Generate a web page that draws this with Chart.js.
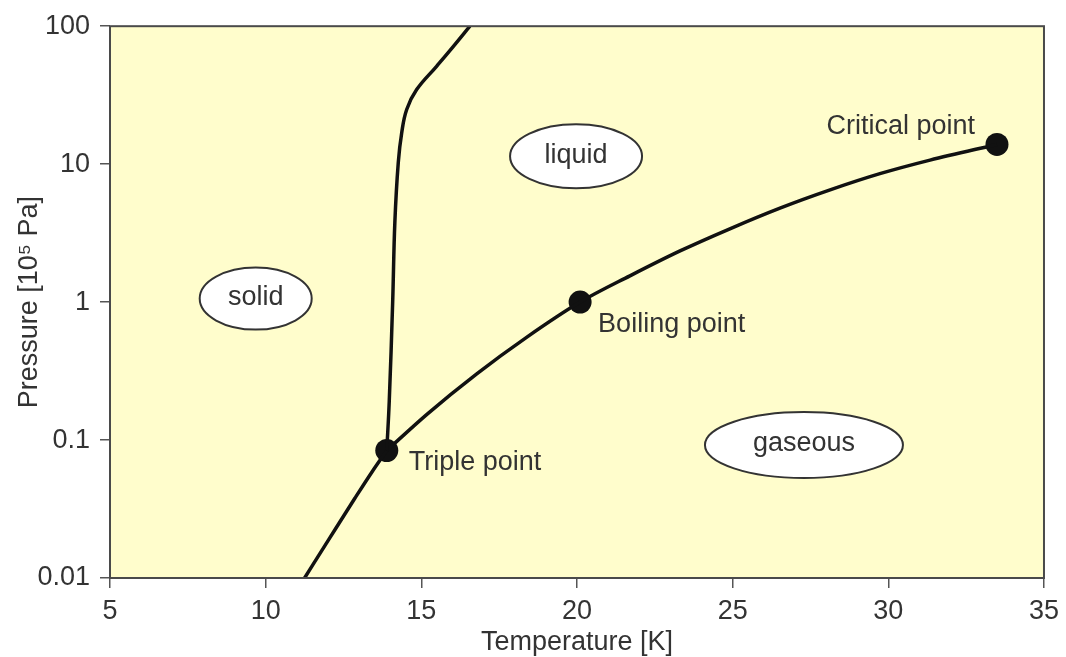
<!DOCTYPE html>
<html>
<head>
<meta charset="utf-8">
<script src="https://cdn.jsdelivr.net/npm/chart.js@4/dist/chart.umd.min.js"></script>
<style>
  html, body { margin: 0; padding: 0; background: #ffffff; }
  #wrap { width: 1066px; height: 657px; position: relative; }
</style>
</head>
<body>
<div id="wrap"><canvas id="phase"></canvas></div>
<script>
// Melting curve (solid / liquid boundary), temperature in K, pressure in 10^5 Pa
const meltT = [13.89, 13.97, 14.08, 14.15, 14.26, 14.37, 14.53, 14.85, 15.49, 16.03, 16.56];
const meltP = [0.084, 0.192, 1.01, 3.8, 10.3, 16.9, 24.9, 34.7, 51.2, 71.4, 100];

// Sublimation curve (solid / gas) up to the triple point
const subT = [11.25, 12.07, 12.87, 13.42, 13.89];
const subP = [0.01, 0.0197, 0.038, 0.059, 0.084];

// Vaporization curve (liquid / gas) from the triple point to the critical point
const vapT = [13.89, 15.17, 16.78, 18.38, 20.1, 21.7, 23.31, 24.91, 26.52, 28.13, 29.73, 31.34, 33.49];
const vapP = [0.084, 0.153, 0.302, 0.555, 1.0, 1.55, 2.35, 3.4, 4.8, 6.51, 8.53, 10.7, 13.9];

// Marked states
const pointNames = ['Triple point', 'Boiling point', 'Critical point'];
const pointT = [13.89, 20.1, 33.49];
const pointP = [0.084, 1.0, 13.9];

// Phase region labels
const regionNames = ['solid', 'liquid', 'gaseous'];
const regionT = [9.68, 19.97, 27.29];
const regionP = [1.06, 11.4, 0.092];

// Axis ticks
const xTicks = [5, 10, 15, 20, 25, 30, 35];
const yTicks = [0.01, 0.1, 1, 10, 100];
const yTickLabels = ['0.01', '0.1', '1', '10', '100'];

const FONT = '"Liberation Sans", Arial, Helvetica, sans-serif';
const FONT_SIZE = 27;
const TEXT = '#333333';
const LINE = '#111111';

const toXY = (xs, ys) => xs.map((x, i) => ({ x: x, y: ys[i] }));

const curve = (label, xs, ys, smoothing) => Object.assign({
  label: label,
  data: toXY(xs, ys),
  showLine: true,
  borderColor: LINE,
  borderWidth: 3.5,
  pointRadius: 0
}, smoothing);

// Pale yellow plot area and the frame around it
const plotAreaPlugin = {
  id: 'plotArea',
  beforeDraw(chart) {
    const { ctx, chartArea: a } = chart;
    ctx.save();
    ctx.fillStyle = '#fffdcc';
    ctx.fillRect(a.left, a.top, a.right - a.left, a.bottom - a.top);
    ctx.restore();
  },
  afterDraw(chart) {
    const { ctx, chartArea: a } = chart;
    ctx.save();
    ctx.strokeStyle = '#4a4a4a';
    ctx.lineWidth = 2;
    ctx.strokeRect(a.left, a.top, a.right - a.left, a.bottom - a.top);
    ctx.restore();
  }
};

// Ellipse-framed phase names and text beside the marked points
const annotationPlugin = {
  id: 'phaseLabels',
  afterDatasetsDraw(chart, args, opts) {
    const { ctx, scales: { x, y } } = chart;
    ctx.save();
    ctx.font = FONT_SIZE + 'px ' + FONT;
    ctx.textBaseline = 'middle';

    regionNames.forEach((name, i) => {
      const cx = x.getPixelForValue(regionT[i]);
      const cy = y.getPixelForValue(regionP[i]);
      ctx.beginPath();
      ctx.ellipse(cx, cy, opts.rx[i], opts.ry[i], 0, 0, Math.PI * 2);
      ctx.fillStyle = '#ffffff';
      ctx.fill();
      ctx.lineWidth = 2;
      ctx.strokeStyle = '#333333';
      ctx.stroke();
      ctx.fillStyle = TEXT;
      ctx.textAlign = 'center';
      ctx.fillText(name, cx, cy - 1);
    });

    pointNames.forEach((name, i) => {
      const px = x.getPixelForValue(pointT[i]);
      const py = y.getPixelForValue(pointP[i]);
      const o = opts.offsets[i];
      ctx.fillStyle = TEXT;
      ctx.textAlign = o.align;
      ctx.fillText(name, px + o.dx, py + o.dy);
    });
    ctx.restore();
  }
};

new Chart(document.getElementById('phase'), {
  type: 'scatter',
  data: {
    datasets: [
      curve('Melting curve', meltT, meltP, { tension: 0.4 }),
      curve('Sublimation curve', subT, subP, { cubicInterpolationMode: 'monotone' }),
      curve('Vaporization curve', vapT, vapP, { cubicInterpolationMode: 'monotone' }),
      {
        label: 'Points',
        data: toXY(pointT, pointP),
        showLine: false,
        pointRadius: 11.5,
        pointHoverRadius: 11.5,
        backgroundColor: LINE,
        borderColor: LINE,
        borderWidth: 0
      }
    ]
  },
  options: {
    responsive: true,
    maintainAspectRatio: false,
    animation: false,
    events: [],
    layout: { padding: { left: 0, right: 22, top: 23, bottom: 0 } },
    plugins: {
      legend: { display: false },
      tooltip: { enabled: false },
      phaseLabels: {
        rx: [56, 66, 99],
        ry: [31, 32, 33],
        offsets: [
          { dx: 22, dy: 12, align: 'left' },
          { dx: 18, dy: 22, align: 'left' },
          { dx: -22, dy: -18, align: 'right' }
        ]
      }
    },
    scales: {
      x: {
        type: 'linear',
        min: 5,
        max: 35,
        afterBuildTicks(scale) { scale.ticks = xTicks.map(v => ({ value: v })); },
        afterFit(scale) { scale.height = 79; },
        grid: { display: true, drawOnChartArea: false, drawTicks: true, tickLength: 10, color: '#555555', lineWidth: 1.5 },
        border: { display: false },
        ticks: { color: TEXT, font: { family: FONT, size: FONT_SIZE }, padding: 7, maxRotation: 0, autoSkip: false },
        title: { display: true, text: 'Temperature [K]', color: TEXT, font: { family: FONT, size: FONT_SIZE }, padding: { top: 0, bottom: -2 } }
      },
      y: {
        type: 'logarithmic',
        min: 0.01,
        max: 100,
        afterBuildTicks(scale) { scale.ticks = yTicks.map(v => ({ value: v })); },
        afterFit(scale) { scale.width = 110; },
        grid: { display: true, drawOnChartArea: false, drawTicks: true, tickLength: 10, color: '#555555', lineWidth: 1.5 },
        border: { display: false },
        ticks: {
          color: TEXT,
          font: { family: FONT, size: FONT_SIZE },
          padding: 10,
          autoSkip: false,
          callback(value) {
            const i = yTicks.indexOf(value);
            return i >= 0 ? yTickLabels[i] : '';
          }
        },
        title: { display: true, text: 'Pressure [10\u2075 Pa]', color: TEXT, font: { family: FONT, size: FONT_SIZE }, padding: { top: 13, bottom: 0 } }
      }
    }
  },
  plugins: [plotAreaPlugin, annotationPlugin]
});
</script>
</body>
</html>
